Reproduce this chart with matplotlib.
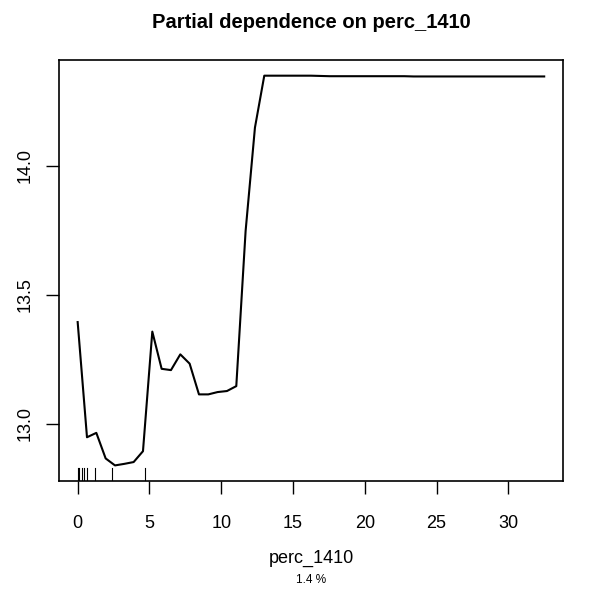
import numpy as np
import matplotlib
matplotlib.use("Agg")
import matplotlib.pyplot as plt

plt.rcParams['font.family'] = ['Liberation Sans', 'DejaVu Sans']

# partial dependence grid (51 points from 0 to 32.5)
pd_x = np.linspace(0, 32.5, 51)
pd_y = [13.394, 12.948, 12.965, 12.866, 12.839, 12.845, 12.852, 12.894,
        13.357, 13.213, 13.208, 13.269, 13.233, 13.114, 13.114, 13.123,
        13.127, 13.146, 13.747, 14.147, 14.348, 14.348, 14.348, 14.348,
        14.348, 14.348, 14.347, 14.346, 14.346, 14.346, 14.346, 14.346,
        14.346, 14.346, 14.346, 14.346, 14.345, 14.345, 14.345, 14.345,
        14.345, 14.345, 14.345, 14.345, 14.345, 14.345, 14.345, 14.345,
        14.345, 14.345, 14.345]

# rug positions (deciles of observed data)
rug_x = [0.0, 0.07, 0.3, 0.47, 0.68, 1.22, 2.36, 4.66]

x_ticks = [0, 5, 10, 15, 20, 25, 30]
y_ticks = [13.0, 13.5, 14.0]
y_tick_labels = ["13.0", "13.5", "14.0"]

fig = plt.figure(figsize=(5.9, 5.95), dpi=100)
ax = fig.add_axes([0.1, 0.1916, 0.854, 0.7074])

ax.plot(pd_x, pd_y, color='black', linewidth=1.5)

# rug along bottom
for r in rug_x:
    ax.axvline(r, ymin=0, ymax=0.03, color='black', linewidth=0.8)

lo, hi = min(pd_y), max(pd_y)
pad = (hi - lo) * 0.04
ax.set_ylim(lo - pad, hi + pad)
xpad = 32.5 * 0.04
ax.set_xlim(-xpad, 32.5 + xpad)

ax.set_xticks(x_ticks)
ax.set_yticks(y_ticks)
ax.set_yticklabels(y_tick_labels, rotation=90, va='center')
ax.tick_params(axis='both', direction='out', length=9.5, width=1,
               labelsize=13)
ax.tick_params(axis='x', pad=15)
ax.tick_params(axis='y', pad=9)

for s in ax.spines.values():
    s.set_linewidth(1.2)

ax.set_xlabel('perc_1410', fontsize=13, labelpad=13)
fig.text(0.527, 0.025, '1.4 %', fontsize=8.5, ha='center', va='center')
fig.text(0.527, 0.962, 'Partial dependence on perc_1410', fontsize=14.5,
         fontweight='bold', ha='center', va='center')

fig.savefig('out.png', dpi=100)
